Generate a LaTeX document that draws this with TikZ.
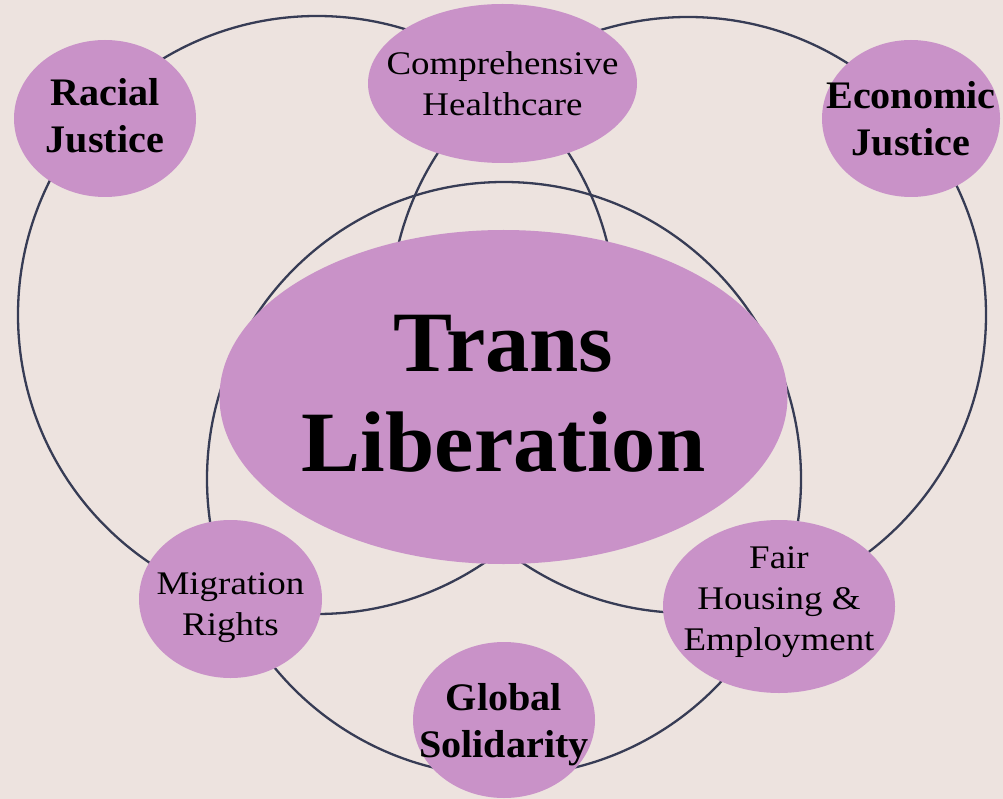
\documentclass[tikz,border=0pt]{standalone}
\usepackage{fontspec}
\usepackage{tikz}
\usetikzlibrary{shapes}
\newfontfamily\causefont[FakeStretch=1.12]{Liberation Serif}
\newfontfamily\headfont[FakeStretch=1.03]{Liberation Serif}
\definecolor{bgpink}{RGB}{237,227,223}
\definecolor{orchid}{RGB}{201,146,200}
\definecolor{ringblue}{RGB}{55,60,85}
% struts to nudge a label up or down inside its ellipse
\newcommand{\sinkline}[1]{\rule{0pt}{#1}}
\newcommand{\liftline}[1]{\rule[-#1]{0pt}{0pt}}

\begin{document}
\begin{tikzpicture}[x=1pt,y=-1pt]
    \tikzstyle{ring}=[draw=ringblue,line width=2.3pt]
    \tikzstyle{cause}=[ellipse,fill=orchid,text=black,align=center,inner xsep=-30pt,inner ysep=0pt]
    \tikzstyle{plain}=[cause,font=\causefont\fontsize{33}{41}\selectfont]
    \tikzstyle{heavy}=[cause,font=\headfont\bfseries\fontsize{39}{47}\selectfont]
    \fill[bgpink] (0,0) rectangle (1003,799);
    \useasboundingbox (0,0) rectangle (1003,799);
    % the three rings
    \coordinate (leftring) at (317,315);
    \coordinate (rightring) at (688,315);
    \coordinate (midring) at (504,479);
    \draw[ring] (leftring) circle [radius=299pt];
    \draw[ring] (rightring) circle [radius=298pt];
    \draw[ring] (midring) circle [radius=297pt];
    % causes
    \node[heavy,minimum width=182pt,minimum height=157pt] (racial) at (105,118.5) {Racial\\Justice\liftline{6pt}};
    \node[plain,minimum width=269pt,minimum height=159pt] (health) at (502.5,83.5) {Comprehensive\\Healthcare};
    \node[heavy,minimum width=178pt,minimum height=157pt] (econ) at (911,118.5) {Economic\\Justice};
    \node[cause,font=\headfont\bfseries\fontsize{86}{100}\selectfont,minimum width=568pt,minimum height=334pt] (trans) at (503.5,397) {Trans\\Liberation\liftline{7pt}};
    \node[plain,minimum width=183pt,minimum height=158pt] (migr) at (230.5,599) {\sinkline{40pt}Migration\\Rights};
    \node[plain,minimum width=232pt,minimum height=173pt] (fair) at (779,606.5) {Fair\\Housing \&\\Employment\liftline{15pt}};
    \node[heavy,minimum width=182pt,minimum height=156pt] (global) at (504,720) {\sinkline{36pt}Global\\Solidarity};
\end{tikzpicture}
\end{document}
